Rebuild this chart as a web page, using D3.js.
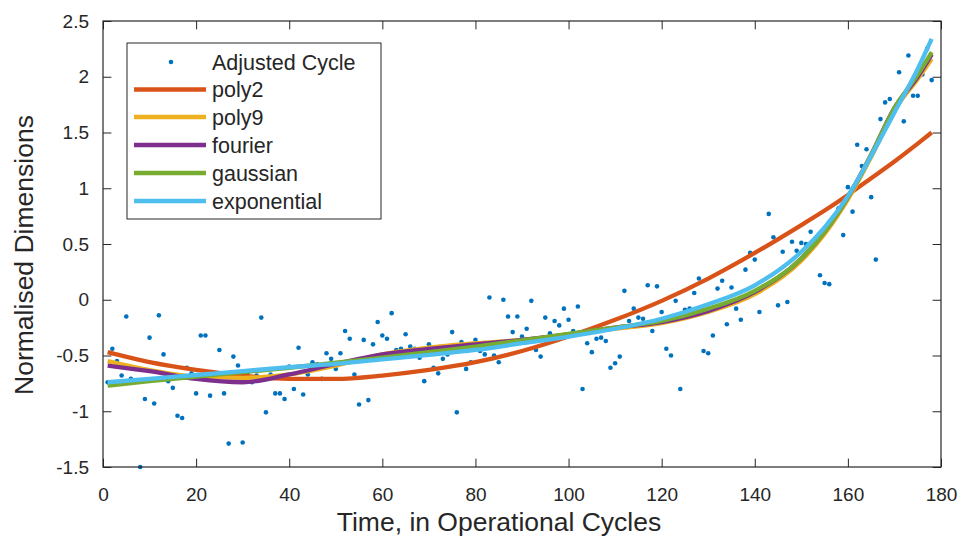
<!DOCTYPE html>
<html>
<head>
<meta charset="utf-8">
<script src="https://cdn.jsdelivr.net/npm/d3@7"></script>
<style>
  html, body { margin: 0; padding: 0; background: #fff; }
  svg text { font-family: "Liberation Sans", Arial, Helvetica, sans-serif; fill: #262626; }
</style>
</head>
<body>
<svg id="chart" width="963" height="544"></svg>
<script>
// ---------- data ----------
const cycleX = d3.range(1, 179);
const cycleY = [
  -0.74,-0.44,-0.55,-0.68,-0.15,-0.71,-0.62,-1.50,-0.89,-0.34,
  -0.93,-0.14,-0.49,-0.73,-0.79,-1.04,-1.06,-0.61,-0.66,-0.84,
  -0.32,-0.32,-0.86,-0.71,-0.45,-0.84,-1.29,-0.51,-0.59,-1.28,
  -0.66,-0.74,-0.68,-0.16,-1.01,-0.67,-0.84,-0.84,-0.89,-0.60,
  -0.80,-0.43,-0.85,-0.67,-0.56,-0.58,-0.71,-0.48,-0.53,-0.62,
  -0.48,-0.28,-0.35,-0.67,-0.94,-0.36,-0.90,-0.40,-0.20,-0.32,
  -0.35,-0.12,-0.45,-0.44,-0.31,-0.42,-0.44,-0.52,-0.73,-0.40,
  -0.61,-0.66,-0.53,-0.49,-0.29,-1.01,-0.38,-0.62,-0.56,-0.36,
  -0.46,-0.49, 0.02,-0.50,-0.56, 0.00,-0.15,-0.29,-0.15,-0.33,
  -0.26,-0.01,-0.45,-0.51,-0.16,-0.30,-0.19,-0.23,-0.08,-0.18,
  -0.28,-0.06,-0.80,-0.39,-0.47,-0.35,-0.34,-0.37,-0.61,-0.57,
  -0.51, 0.08,-0.19,-0.08,-0.16,-0.17, 0.13,-0.28, 0.12,-0.11,
  -0.44,-0.50,-0.01,-0.80,-0.09,-0.08, 0.06, 0.19,-0.46,-0.48,
  -0.32, 0.10, 0.17,-0.22, 0.11,-0.08,-0.18, 0.27, 0.42, 0.36,
  -0.11, 0.12, 0.77, 0.56,-0.05, 0.43,-0.02, 0.52, 0.44, 0.51,
   0.50, 0.61, 0.55, 0.22, 0.15, 0.14, 0.74, 0.82, 0.58, 1.01,
   0.79, 1.39, 1.20, 1.35, 0.92, 0.36, 1.62, 1.77, 1.80, 1.69,
   2.04, 1.60, 2.19, 1.83, 1.83, 2.02, 2.25, 1.97
];

const fitX = [1,10,20,30,40,50,60,70,80,90,100,110,120,130,140,150,155,160,165,170,175,178];
const poly2Y       = [-0.47,-0.56,-0.63,-0.68,-0.71,-0.71,-0.68,-0.63,-0.56,-0.46,-0.33,-0.18,-0.01,0.19,0.42,0.67,0.80,0.94,1.09,1.24,1.40,1.50];
const poly9Y       = [-0.55,-0.63,-0.69,-0.70,-0.67,-0.59,-0.49,-0.43,-0.39,-0.36,-0.31,-0.26,-0.21,-0.11,0.05,0.35,0.59,0.90,1.28,1.70,1.98,2.16];
const fourierY     = [-0.59,-0.64,-0.71,-0.74,-0.67,-0.575,-0.49,-0.44,-0.40,-0.36,-0.31,-0.25,-0.20,-0.10,0.07,0.37,0.61,0.92,1.30,1.72,2.00,2.20];
const gaussianY    = [-0.77,-0.73,-0.69,-0.65,-0.61,-0.565,-0.52,-0.47,-0.42,-0.365,-0.305,-0.25,-0.19,-0.08,0.08,0.37,0.61,0.92,1.30,1.72,2.02,2.22];
const exponentialY = [-0.74,-0.71,-0.675,-0.64,-0.605,-0.575,-0.535,-0.495,-0.45,-0.39,-0.33,-0.26,-0.17,-0.04,0.13,0.43,0.65,0.93,1.29,1.68,2.07,2.34];

const seriesNames  = ["poly2","poly9","fourier","gaussian","exponential"];
const seriesColors = ["#D95319","#EDB120","#7E2F8E","#77AC30","#4DBEEE"];
const seriesY      = [poly2Y, poly9Y, fourierY, gaussianY, exponentialY];

const xTicks = [0,20,40,60,80,100,120,140,160,180];
const yTicks = [-1.5,-1,-0.5,0,0.5,1,1.5,2,2.5];

// ---------- layout ----------
const L = 103, R = 941, T = 21, B = 467;
const svg = d3.select("#chart");
const x = d3.scaleLinear().domain([0,180]).range([L,R]);
const y = d3.scaleLinear().domain([-1.5,2.5]).range([B,T]);
const axisColor = "#262626";
const tickLen = 8.4;

// scatter
svg.append("g").selectAll("circle")
  .data(cycleX.map((d,i)=>[d,cycleY[i]]))
  .join("circle")
  .attr("cx", d=>x(d[0])).attr("cy", d=>y(d[1]))
  .attr("r", 2.3).attr("fill", "#0072BD");

// fit lines
const line = d3.line().x(d=>x(d[0])).y(d=>y(d[1])).curve(d3.curveMonotoneX);
seriesY.forEach((ys, k) => {
  svg.append("path")
    .datum(fitX.map((d,i)=>[d, ys[i]]))
    .attr("d", line)
    .attr("fill","none")
    .attr("stroke", seriesColors[k])
    .attr("stroke-width", 4.3)
    .attr("stroke-linejoin","round");
});

// axes
function styleAxis(g){
  g.selectAll(".domain").remove();
  g.selectAll("line").attr("stroke", axisColor).attr("stroke-width", 1);
  g.selectAll("text").attr("fill", axisColor).style("font-size","19px")
    .style("font-family", '"Liberation Sans", Arial, sans-serif');
}
const fmt = d => (d < 0 ? "-" : "") + Math.abs(d);
svg.append("g").attr("transform",`translate(0,${B})`)
  .call(d3.axisBottom(x).tickValues(xTicks).tickFormat(fmt).tickSizeInner(-tickLen).tickSizeOuter(0).tickPadding(21))
  .call(styleAxis);
svg.append("g").attr("transform",`translate(0,${T})`)
  .call(d3.axisTop(x).tickValues(xTicks).tickFormat("").tickSizeInner(-tickLen).tickSizeOuter(0))
  .call(styleAxis);
svg.append("g").attr("transform",`translate(${L},0)`)
  .call(d3.axisLeft(y).tickValues(yTicks).tickFormat(fmt).tickSizeInner(-tickLen).tickSizeOuter(0).tickPadding(14))
  .call(styleAxis);
svg.append("g").attr("transform",`translate(${R},0)`)
  .call(d3.axisRight(y).tickValues(yTicks).tickFormat("").tickSizeInner(-tickLen).tickSizeOuter(0))
  .call(styleAxis);

// box
svg.append("rect").attr("x",L).attr("y",T).attr("width",R-L).attr("height",B-T)
  .attr("fill","none").attr("stroke",axisColor).attr("stroke-width",1.2);

// axis titles
svg.append("text").attr("x",499).attr("y",531).attr("text-anchor","middle")
  .style("font-size","26.5px").text("Time, in Operational Cycles");
svg.append("text").attr("transform",`translate(33,255) rotate(-90)`).attr("text-anchor","middle")
  .style("font-size","26.5px").text("Normalised Dimensions");

// legend
const lg = svg.append("g");
lg.append("rect").attr("x",127).attr("y",43).attr("width",254).attr("height",176)
  .attr("fill","#fff").attr("stroke",axisColor).attr("stroke-width",1);
const rowY = [62, 89.5, 117, 145, 173, 201];
lg.append("circle").attr("cx",171).attr("cy",rowY[0]).attr("r",2.3).attr("fill","#0072BD");
lg.append("text").attr("x",212).attr("y",rowY[0]).attr("dy","0.35em").style("font-size","21.5px").text("Adjusted Cycle");
seriesNames.forEach((n,k)=>{
  lg.append("line").attr("x1",134).attr("x2",206).attr("y1",rowY[k+1]).attr("y2",rowY[k+1])
    .attr("stroke",seriesColors[k]).attr("stroke-width",4.3);
  lg.append("text").attr("x",212).attr("y",rowY[k+1]).attr("dy","0.35em").style("font-size","21.5px").text(n);
});
</script>
</body>
</html>
